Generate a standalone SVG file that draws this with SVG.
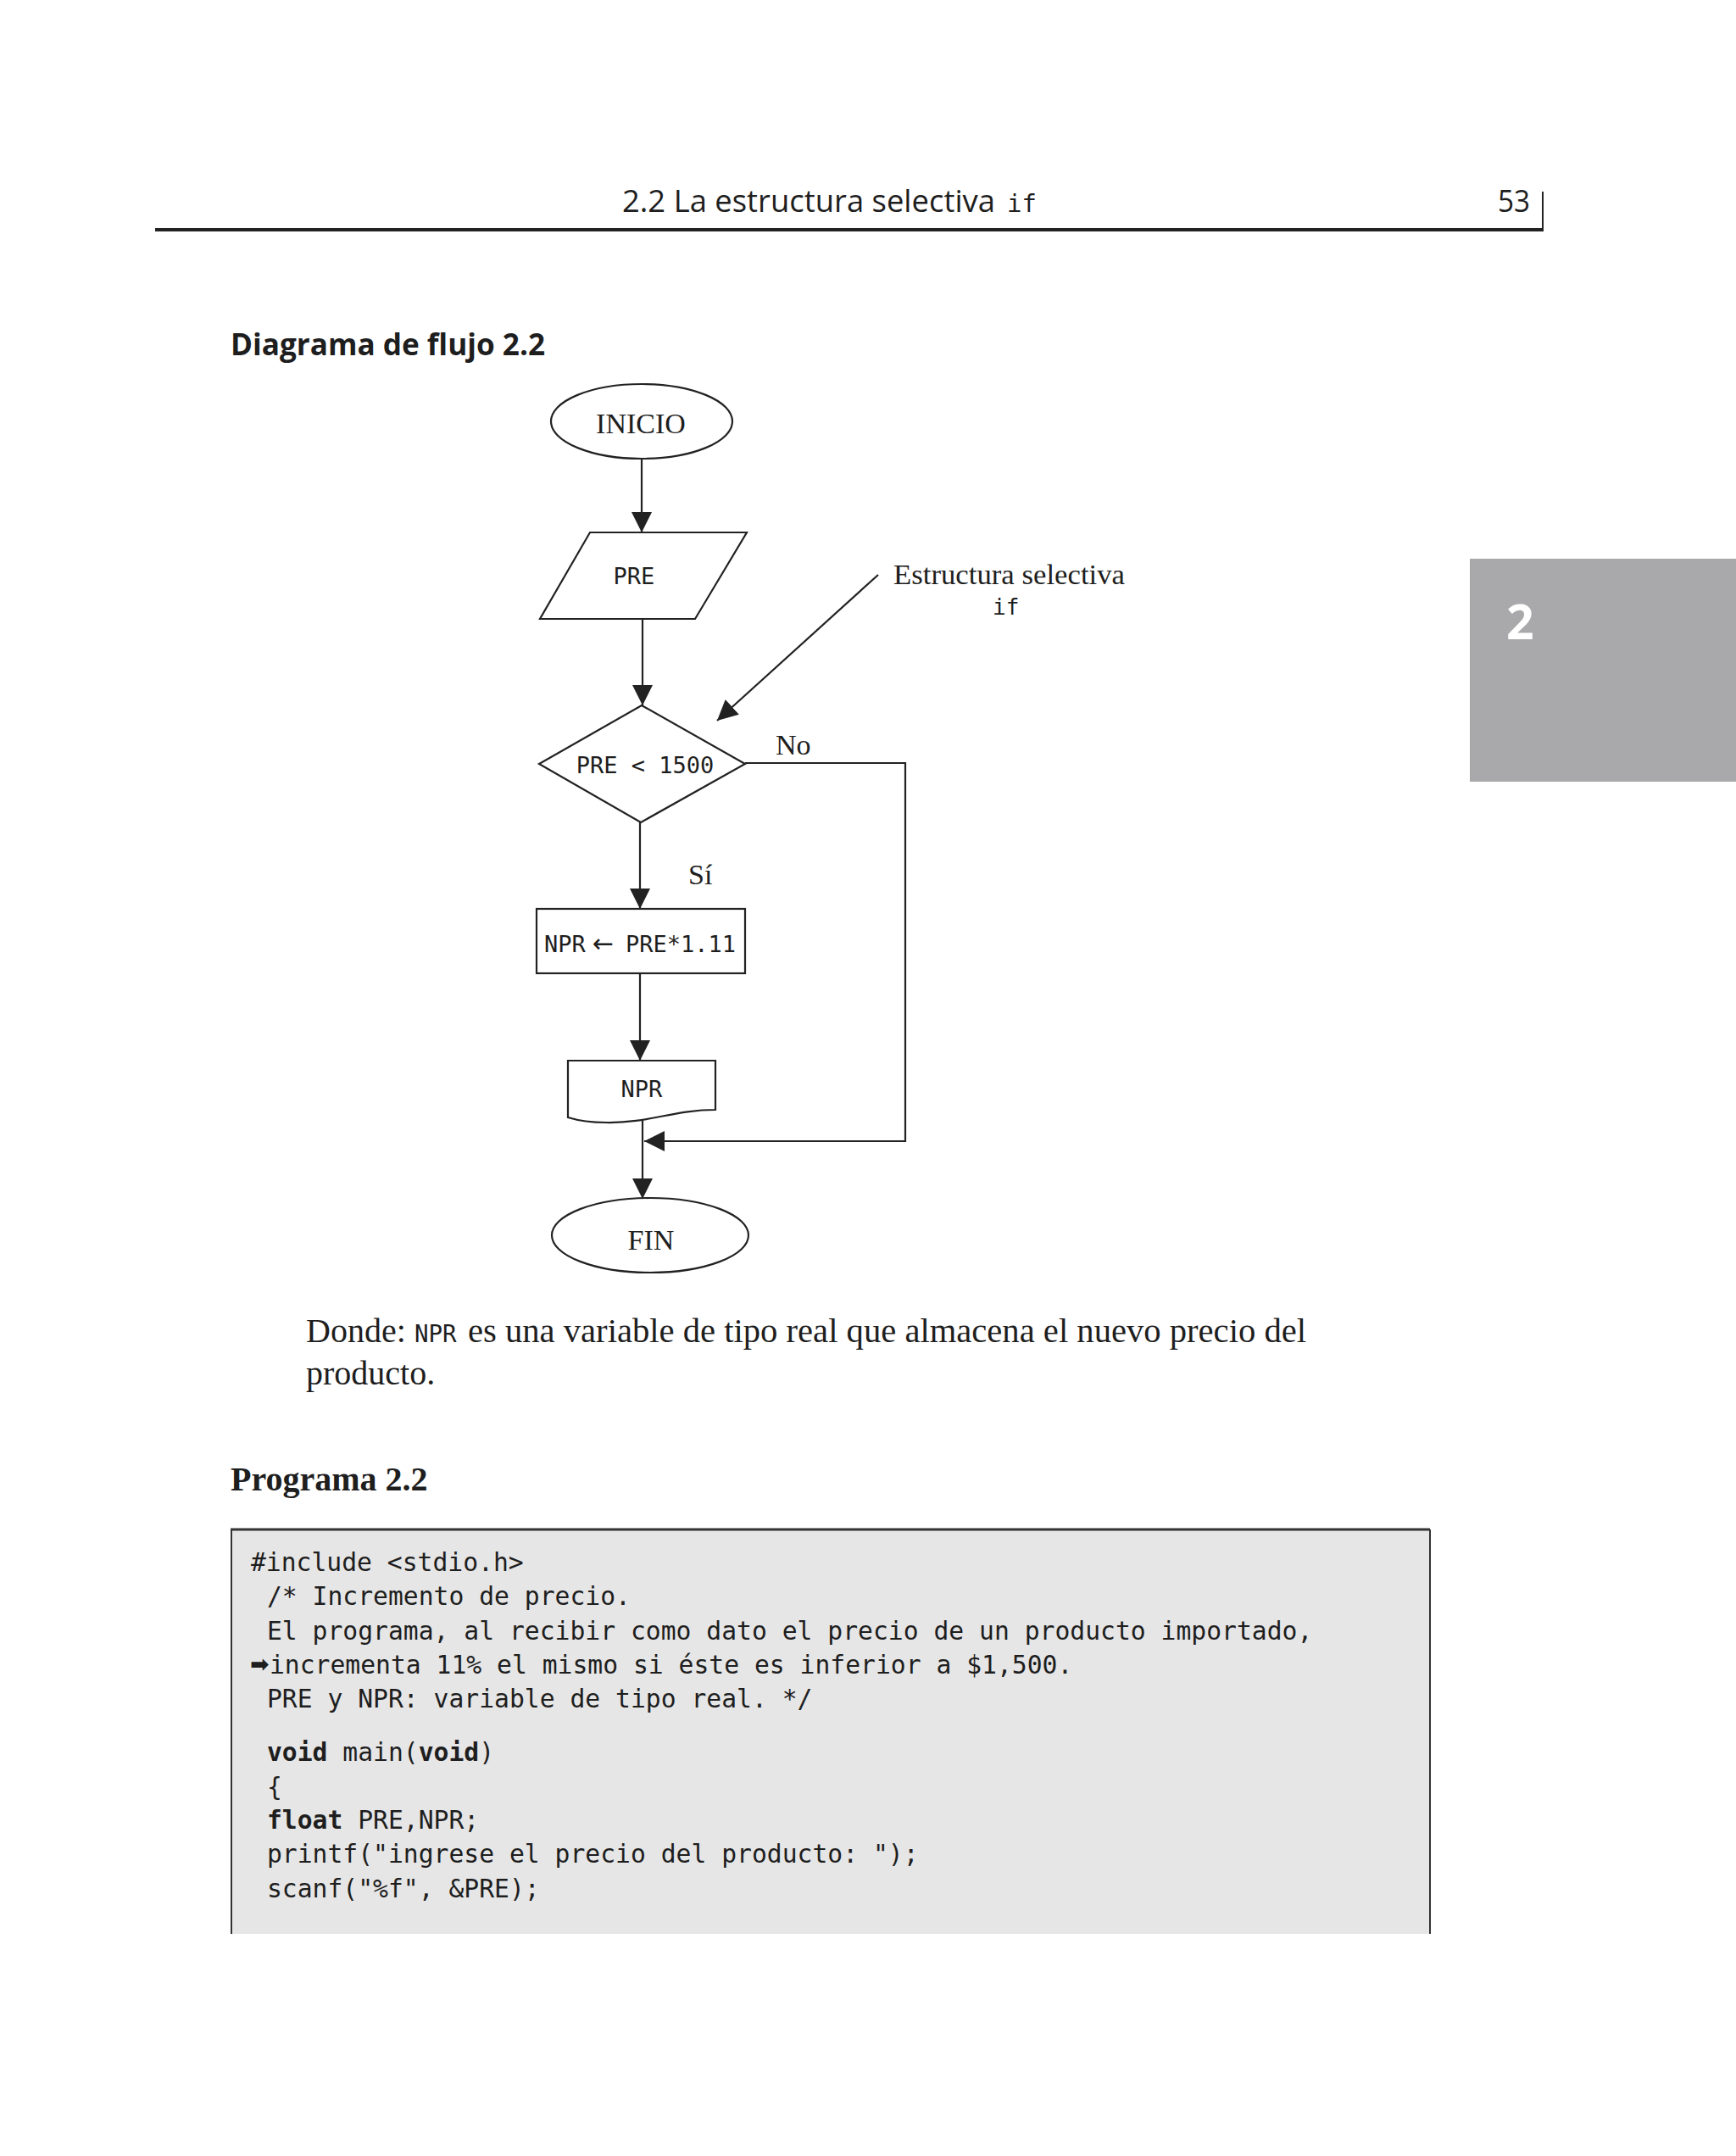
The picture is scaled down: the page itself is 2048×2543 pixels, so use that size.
<svg xmlns="http://www.w3.org/2000/svg" width="2048" height="2543" viewBox="0 0 2048 2543">
<style>
.sans{font-family:"Open Sans","Noto Sans","DejaVu Sans",sans-serif;fill:#1e1e1e}
.serif{font-family:"Liberation Serif","Times New Roman",serif;fill:#1e1e1e}
.mono{font-family:"DejaVu Sans Mono","Liberation Mono",monospace;fill:#1e1e1e}
.shape{fill:#fff;stroke:#222;stroke-width:2.2}
.conn{fill:none;stroke:#222;stroke-width:2.2}
.code{font-family:"DejaVu Sans Mono","Liberation Mono",monospace;font-size:29.7px;fill:#1e1e1e}
.b{font-weight:bold}
</style>
<defs>
<marker id="ah" markerUnits="userSpaceOnUse" markerWidth="24" markerHeight="24" refX="22" refY="11" orient="auto" viewBox="0 0 22 22">
<path d="M0,0 L22,11 L0,22 z" fill="#222"/>
</marker>
</defs>
<rect width="2048" height="2543" fill="#fff"/>

<!-- page header -->
<g id="header">
<text class="sans" x="734" y="250" font-size="37" textLength="440" lengthAdjust="spacingAndGlyphs">2.2 La estructura selectiva</text>
<text class="mono" x="1188" y="250" font-size="29">if</text>
<text class="sans" x="1767" y="250" font-size="37" textLength="38" lengthAdjust="spacingAndGlyphs">53</text>
<line x1="1820" y1="226" x2="1820" y2="273" stroke="#222" stroke-width="2"/>
<rect x="183" y="269" width="1638" height="4" fill="#222"/>
</g>

<!-- chapter tab -->
<g id="tab">
<rect x="1734" y="659" width="314" height="263" fill="#a9a9ab"/>
<text class="sans" x="1777" y="754" font-size="57" font-weight="bold" style="fill:#fff">2</text>
</g>

<text class="sans" x="272" y="419" font-size="35" font-weight="bold" textLength="371" lengthAdjust="spacingAndGlyphs">Diagrama de flujo 2.2</text>

<!-- connectors -->
<g id="connectors">
<path class="conn" d="M757,541 V628" marker-end="url(#ah)"/>
<path class="conn" d="M758,730 V832" marker-end="url(#ah)"/>
<path class="conn" d="M755,970 V1072" marker-end="url(#ah)"/>
<path class="conn" d="M755,1148 V1251" marker-end="url(#ah)"/>
<path class="conn" d="M758,1322 V1414" marker-end="url(#ah)"/>
<path class="conn" d="M879,900 H1068 V1346 H760" marker-end="url(#ah)"/>
<path class="conn" d="M1036,678 L846,850" marker-end="url(#ah)"/>
</g>

<!-- nodes -->
<g id="inicio">
<ellipse class="shape" cx="757" cy="497" rx="107" ry="44"/>
<text class="serif" x="756" y="511" font-size="34" text-anchor="middle">INICIO</text>
</g>
<g id="pre-input">
<polygon class="shape" points="696,628 881,628 820,730 637,730"/>
<text class="mono" x="748" y="689" font-size="27" text-anchor="middle">PRE</text>
</g>
<g id="decision">
<polygon class="shape" points="757,832 879,901 756,970 636,901"/>
<text class="mono" x="761" y="912" font-size="27" text-anchor="middle">PRE &lt; 1500</text>
<text class="serif" x="915" y="890" font-size="34">No</text>
<text class="serif" x="812" y="1043" font-size="34">Sí</text>
</g>
<g id="assign">
<rect class="shape" x="633" y="1072" width="246" height="76"/>
<text class="mono" x="642" y="1123" font-size="27">NPR<tspan x="699" font-family="DejaVu Sans,sans-serif" font-size="30">←</tspan><tspan x="738">PRE*1.11</tspan></text>
</g>
<g id="output">
<path class="shape" d="M670,1251 L844,1251 L844,1309 C795,1309 765,1325 715,1324 C697,1324 683,1322 670,1318 Z"/>
<text class="mono" x="757" y="1294" font-size="27" text-anchor="middle">NPR</text>
</g>
<g id="fin">
<ellipse class="shape" cx="767" cy="1457" rx="116" ry="44"/>
<text class="serif" x="768" y="1474" font-size="34" text-anchor="middle">FIN</text>
</g>
<g id="note">
<text class="serif" x="1054" y="689" font-size="34" textLength="273" lengthAdjust="spacingAndGlyphs">Estructura selectiva</text>
<text class="mono" x="1171" y="725" font-size="26">if</text>
</g>

<!-- paragraph -->
<text class="serif" x="361" y="1583" font-size="40">Donde:</text>
<text class="mono" x="489" y="1583" font-size="27.5">NPR</text>
<text class="serif" x="552" y="1583" font-size="40" textLength="989" lengthAdjust="spacingAndGlyphs">es una variable de tipo real que almacena el nuevo precio del</text>
<text class="serif" x="361" y="1633" font-size="40">producto.</text>

<text class="serif" x="272" y="1758" font-size="40" font-weight="bold">Programa 2.2</text>

<!-- code box -->
<g id="code">
<rect x="272" y="1804" width="1415" height="477" fill="#e6e6e6"/>
<line x1="272" y1="1804" x2="1687" y2="1804" stroke="#333" stroke-width="3"/>
<line x1="273" y1="1804" x2="273" y2="2281" stroke="#333" stroke-width="2"/>
<line x1="1687" y1="1804" x2="1687" y2="2281" stroke="#333" stroke-width="2"/>
<text class="code" x="296" y="1853">#include &lt;stdio.h&gt;</text>
<text class="code" x="315" y="1893">/* Incremento de precio.</text>
<text class="code" x="315" y="1934">El programa, al recibir como dato el precio de un producto importado,</text>
<text x="295" y="1972" font-family="DejaVu Sans,sans-serif" font-size="27" font-weight="bold" fill="#1e1e1e">➡</text>
<text class="code" x="318" y="1974">incrementa 11% el mismo si éste es inferior a $1,500.</text>
<text class="code" x="315" y="2014">PRE y NPR: variable de tipo real. */</text>
<text class="code" x="315" y="2077"><tspan class="b">void</tspan> main(<tspan class="b">void</tspan>)</text>
<text class="code" x="315" y="2118">{</text>
<text class="code" x="315" y="2157"><tspan class="b">float</tspan> PRE,NPR;</text>
<text class="code" x="315" y="2197">printf("ingrese el precio del producto: ");</text>
<text class="code" x="315" y="2238">scanf("%f", &amp;PRE);</text>
</g>
</svg>
